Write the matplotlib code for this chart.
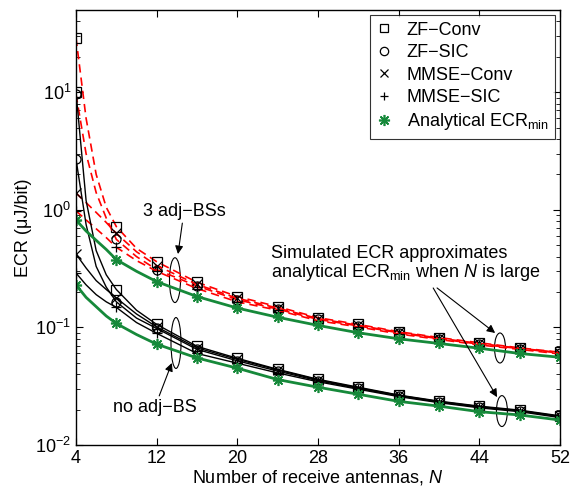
import numpy as np
import matplotlib
matplotlib.use('Agg')
import matplotlib.pyplot as plt
from matplotlib.lines import Line2D
from matplotlib.patches import Ellipse

plt.rcParams['font.family'] = ['Liberation Sans', 'DejaVu Sans']
plt.rcParams['mathtext.fontset'] = 'custom'
plt.rcParams['mathtext.rm'] = 'Liberation Sans'
plt.rcParams['mathtext.it'] = 'Liberation Sans:italic'
plt.rcParams['font.size'] = 13

# number of receive antennas (markers are drawn every 4)
N = np.array([4, 5, 6, 7, 8, 10, 12, 16, 20, 24, 28, 32, 36, 40, 44, 48, 52])

# 3 adjacent BSs (red dashed)
adj3_zf_conv = [29, 6.0, 2.0, 1.05, 0.72, 0.47, 0.362, 0.242, 0.183, 0.150, 0.121, 0.106, 0.092, 0.082, 0.074, 0.067, 0.0615]
adj3_zf_sic = [9.6, 3.0, 1.4, 0.85, 0.56, 0.40, 0.31, 0.225, 0.172, 0.143, 0.117, 0.103, 0.090, 0.080, 0.072, 0.066, 0.0605]
adj3_mmse_conv = [1.39, 1.15, 0.95, 0.78, 0.63, 0.44, 0.335, 0.232, 0.177, 0.146, 0.119, 0.104, 0.091, 0.081, 0.073, 0.0665, 0.061]
adj3_mmse_sic = [0.98, 0.82, 0.69, 0.58, 0.48, 0.37, 0.30, 0.214, 0.165, 0.140, 0.114, 0.101, 0.088, 0.079, 0.071, 0.065, 0.0595]
adj3_analytical = [0.82, 0.66, 0.55, 0.46, 0.377, 0.30, 0.245, 0.183, 0.146, 0.122, 0.104, 0.090, 0.080, 0.073, 0.0665, 0.060, 0.0557]

# no adjacent BS (black solid)
adj0_zf_conv = [10, 1.2, 0.45, 0.28, 0.21, 0.14, 0.106, 0.069, 0.0546, 0.0440, 0.0362, 0.0310, 0.0266, 0.0236, 0.0214, 0.0198, 0.0177]
adj0_zf_sic = [2.7, 0.75, 0.33, 0.22, 0.165, 0.12, 0.098, 0.065, 0.052, 0.0425, 0.0352, 0.0303, 0.0262, 0.0232, 0.0210, 0.0195, 0.0174]
adj0_mmse_conv = [0.42, 0.32, 0.25, 0.21, 0.178, 0.13, 0.101, 0.067, 0.0535, 0.0435, 0.0358, 0.0306, 0.0264, 0.0234, 0.0212, 0.0196, 0.0175]
adj0_mmse_sic = [0.29, 0.23, 0.19, 0.165, 0.148, 0.11, 0.089, 0.060, 0.0496, 0.0410, 0.0345, 0.0298, 0.0258, 0.0229, 0.0207, 0.0192, 0.0171]
adj0_analytical = [0.23, 0.18, 0.15, 0.125, 0.108, 0.087, 0.072, 0.055, 0.045, 0.036, 0.031, 0.027, 0.0235, 0.0214, 0.0192, 0.018, 0.0163]

labels = ['ZF\u2212Conv', 'ZF\u2212SIC', 'MMSE\u2212Conv', 'MMSE\u2212SIC']
markers = ['s', 'o', 'x', '+']
green = '#16893a'
asterisk = (8, 2, 0)

mk = (N % 4 == 0)

fig = plt.figure(figsize=(5.75, 4.9), dpi=100)
ax = fig.add_axes([76/575, 1-445/490, 484/575, 435/490])

sims = [
    (adj3_zf_conv, adj3_zf_sic, adj3_mmse_conv, adj3_mmse_sic, 'red', (0, (5, 3)), 1.2),
    (adj0_zf_conv, adj0_zf_sic, adj0_mmse_conv, adj0_mmse_sic, 'black', '-', 1.0),
]
for grp in sims:
    curves, col, ls, lw = grp[:4], grp[4], grp[5], grp[6]
    for y, m in zip(curves, markers):
        y = np.array(y)
        ax.plot(N, y, color=col, linestyle=ls, linewidth=lw)
        ax.plot(N[mk], y[mk], linestyle='none', marker=m, color='k',
                markerfacecolor='none', markersize=6.5, markeredgewidth=0.9)

for y in [adj3_analytical, adj0_analytical]:
    y = np.array(y)
    ax.plot(N, y, color=green, linewidth=2.0)
    ax.plot(N[mk], y[mk], linestyle='none', marker=asterisk, color=green,
            markersize=8, markeredgewidth=1.2)

ax.set_yscale('log')
ax.set_xlim(4, 52)
ax.set_ylim(0.01, 50)
ax.set_xticks([4, 12, 20, 28, 36, 44, 52])
ax.tick_params(which='both', direction='in', top=True, right=True, labelsize=13)
ax.tick_params(which='major', length=5)
ax.tick_params(which='minor', length=3)
for s in ax.spines.values():
    s.set_linewidth(1.0)

ax.set_xlabel('Number of receive antennas, $N$', fontsize=13, labelpad=1)
ax.set_ylabel('ECR (\u03bcJ/bit)', fontsize=13, labelpad=2)

# legend
handles = [Line2D([], [], linestyle='none', marker=m, color='k', markerfacecolor='none',
                  markersize=6, markeredgewidth=0.9) for m in markers]
handles.append(Line2D([], [], linestyle='none', marker=asterisk, color=green,
                      markersize=8, markeredgewidth=1.2))
leg = ax.legend(handles, labels + ['Analytical ECR$_{\\mathrm{min}}$'], loc='upper right',
                fontsize=13, frameon=True, fancybox=False, edgecolor='k',
                borderaxespad=0.3, borderpad=0.35, labelspacing=0.3,
                handlelength=0.8, handletextpad=0.85)
leg.get_frame().set_linewidth(0.8)

# ellipses around groups
for c, w, h in [((0.2045, 0.379), 0.0227, 0.103), ((0.2066, 0.2345), 0.0207, 0.117),
                ((0.876, 0.223), 0.0227, 0.069), ((0.880, 0.078), 0.0227, 0.071)]:
    ax.add_patch(Ellipse(c, w, h, transform=ax.transAxes, fill=False, lw=0.8, ec='k'))

ap = dict(arrowstyle='-|>', color='k', lw=0.8, mutation_scale=12, shrinkA=0, shrinkB=0)
ax.annotate('3 adj\u2212BSs', xy=(0.2107, 0.439), xytext=(0.223, 0.536),
            xycoords='axes fraction', textcoords='axes fraction',
            ha='center', va='center', fontsize=13, arrowprops=ap)
ax.annotate('no adj\u2212BS', xy=(0.198, 0.1885), xytext=(0.163, 0.087),
            xycoords='axes fraction', textcoords='axes fraction',
            ha='center', va='center', fontsize=13, arrowprops=ap)
ax.text(0.403, 0.416, 'Simulated ECR approximates\nanalytical ECR$_{\\mathrm{min}}$ when $N$ is large',
        transform=ax.transAxes, ha='left', va='center', fontsize=13, linespacing=1.0)
ax.annotate('', xy=(0.866, 0.2575), xytext=(0.746, 0.361),
            xycoords='axes fraction', textcoords='axes fraction', arrowprops=ap)
ax.annotate('', xy=(0.870, 0.110), xytext=(0.738, 0.361),
            xycoords='axes fraction', textcoords='axes fraction', arrowprops=ap)

fig.savefig('out.png', dpi=100)
